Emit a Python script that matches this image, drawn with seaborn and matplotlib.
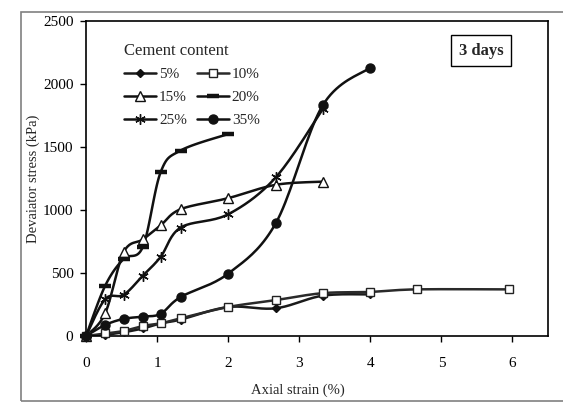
import numpy as np
import pandas as pd
import matplotlib
matplotlib.use("Agg")
import matplotlib.pyplot as plt
import seaborn as sns
from matplotlib.lines import Line2D
from matplotlib.patches import Rectangle

# ---- data ----
strain_5 = [0, 0.27, 0.53, 0.8, 1.05, 1.33, 2.0, 2.67, 3.33, 4.0]
stress_5 = [0, 10, 30, 60, 100, 130, 230, 220, 320, 330]

strain_10 = [0, 0.27, 0.53, 0.8, 1.05, 1.33, 2.0, 2.67, 3.33, 4.0, 4.65, 5.95]
stress_10 = [0, 20, 40, 80, 100, 140, 230, 285, 340, 350, 370, 370]

strain_15 = [0, 0.27, 0.53, 0.8, 1.05, 1.33, 2.0, 2.67, 3.33]
stress_15 = [0, 180, 665, 767, 878, 1006, 1094, 1200, 1225]

strain_20 = [0, 0.27, 0.53, 0.8, 1.05, 1.33, 2.0]
stress_20 = [0, 399, 612, 708, 1300, 1472, 1603]

strain_25 = [0, 0.27, 0.53, 0.8, 1.05, 1.33, 2.0, 2.67, 3.33]
stress_25 = [0, 293, 327, 479, 628, 860, 966, 1259, 1800]

strain_35 = [0, 0.27, 0.53, 0.8, 1.05, 1.33, 2.0, 2.67, 3.33, 4.0]
stress_35 = [0, 88, 136, 154, 176, 309, 495, 895, 1830, 2130]

labels = ["5%", "10%", "15%", "20%", "25%", "35%"]
x_ticks = [0, 1, 2, 3, 4, 5, 6]
y_ticks = [0, 500, 1000, 1500, 2000, 2500]

series = [
    (labels[0], strain_5, stress_5),
    (labels[1], strain_10, stress_10),
    (labels[2], strain_15, stress_15),
    (labels[3], strain_20, stress_20),
    (labels[4], strain_25, stress_25),
    (labels[5], strain_35, stress_35),
]

styles = {
    "5%":  dict(marker="D", ms=4.5, mfc="#111111", mec="#111111", color="#1a1a1a"),
    "10%": dict(marker="s", ms=6, mfc="white", mec="#222222", color="#2a2a2a"),
    "15%": dict(marker="^", ms=6.5, mfc="white", mec="#111111", color="#111111"),
    "20%": dict(marker="_", ms=8, mfc="#111111", mec="#111111", color="#111111", mew=3.2),
    "25%": dict(marker=(6, 2, 0), ms=7.5, mfc="#111111", mec="#111111", color="#111111", mew=1.0),
    "35%": dict(marker="o", ms=6.5, mfc="#111111", mec="#111111", color="#111111"),
}


def smooth(x, y, n=20):
    """Catmull-Rom style smoothing (Excel 'smoothed line' rendering)."""
    x = np.asarray(x, float)
    y = np.asarray(y, float)
    if len(x) < 3:
        return x, y
    px = np.concatenate([[x[0]], x, [x[-1]]])
    py = np.concatenate([[y[0]], y, [y[-1]]])
    xs, ys = [], []
    for i in range(1, len(px) - 2):
        p0, p1, p2, p3 = (np.array([px[j], py[j]]) for j in (i - 1, i, i + 1, i + 2))
        c1 = p1 + (p2 - p0) / 6.0
        c2 = p2 - (p3 - p1) / 6.0
        t = np.linspace(0, 1, n, endpoint=(i == len(px) - 3))
        b = ((1 - t) ** 3)[:, None] * p1 + (3 * (1 - t) ** 2 * t)[:, None] * c1 \
            + (3 * (1 - t) * t ** 2)[:, None] * c2 + (t ** 3)[:, None] * p2
        xs.append(b[:, 0])
        ys.append(b[:, 1])
    return np.concatenate(xs), np.concatenate(ys)


sns.set_theme(style="white")
plt.rcParams["font.family"] = ["Liberation Serif", "DejaVu Serif"]

fig = plt.figure(figsize=(5.63, 4.03), dpi=100)
ax = fig.add_axes([86 / 563, 67 / 403, (548 - 86) / 563, (336 - 21) / 403])

# outer frame (gray border of the picture)
fig.patches.append(Rectangle((21 / 563, 2 / 403), 1.0, (401 - 12) / 403,
                             transform=fig.transFigure, fill=False,
                             edgecolor="#808080", lw=1.2, clip_on=False))

handles = {}
for lab, xs, ys in series:
    st = styles[lab]
    sx, sy = smooth(xs, ys)
    df_line = pd.DataFrame({"x": sx, "y": sy})
    sns.lineplot(data=df_line, x="x", y="y", ax=ax, sort=False,
                 color=st["color"], lw=1.8, estimator=None, zorder=2)
    ax.plot(xs, ys, linestyle="none", marker=st["marker"], ms=st["ms"],
            mfc=st["mfc"], mec=st["mec"], mew=st.get("mew", 1.0), zorder=3,
            clip_on=False)
    handles[lab] = Line2D([], [], color=st["color"], lw=1.8, marker=st["marker"],
                          ms=st["ms"], mfc=st["mfc"], mec=st["mec"],
                          mew=st.get("mew", 1.0))

ax.set_xlim(0, 6.5)
ax.set_ylim(0, 2500)
ax.set_xticks(x_ticks)
ax.set_yticks(y_ticks)
ax.tick_params(axis="both", direction="out", length=4, width=1, color="black",
               labelsize=11, labelcolor="black", bottom=True, left=True, pad=5)
ax.tick_params(axis="x", pad=11)
for sp in ax.spines.values():
    sp.set_color("black")
    sp.set_linewidth(1.2)
    sp.set_visible(True)

ax.set_xlabel("Axial strain (%)", fontsize=10.5)
ax.xaxis.set_label_coords(0.459, -0.15)
ax.set_ylabel("Devaiator stress (kPa)", fontsize=10.5)
ax.yaxis.set_label_coords(-0.1, 0.5)

# legend filled row-wise like the reference: 5%,10% / 15%,20% / 25%,35%
order = ["5%", "15%", "25%", "10%", "20%", "35%"]
leg = ax.legend([handles[k] for k in order], order, ncol=2, title="Cement content",
                frameon=False, loc="upper left", bbox_to_anchor=(0.052, 0.975),
                fontsize=11, title_fontsize=12, handlelength=2.1,
                handletextpad=0.2, columnspacing=0.65, labelspacing=0.6)
leg._legend_box.align = "left"

ax.text(0.855, 0.906, "3 days", transform=ax.transAxes, fontsize=12,
        fontweight="bold", ha="center", va="center",
        bbox=dict(boxstyle="square,pad=0.45", fc="white", ec="black", lw=1.0))

fig.savefig("out.png", dpi=100)
